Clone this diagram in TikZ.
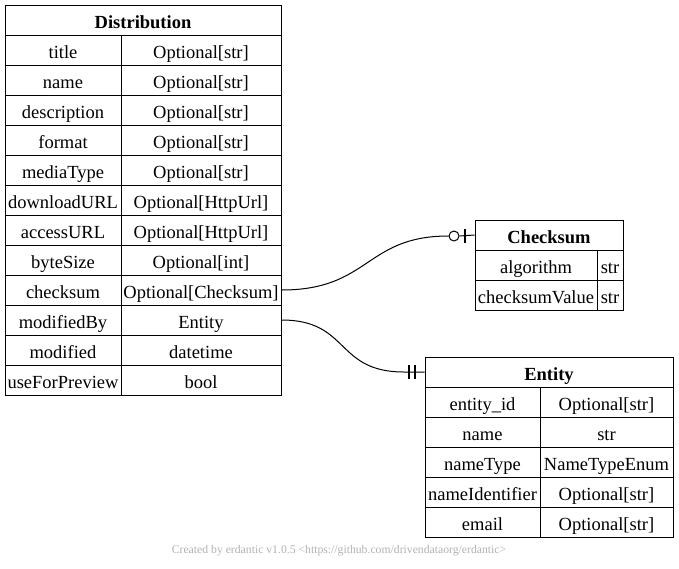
\documentclass[tikz,border=0pt]{standalone}
\usepackage{fontspec}
\setmainfont{Liberation Serif}
\begin{document}
\begin{tikzpicture}[x=1pt,y=-1pt,
  cell/.style={draw, line width=1pt, minimum height=30pt, inner sep=0pt, text height=17pt, text depth=1pt, font=\fontsize{18.5}{20}\selectfont},
  head/.style={cell, font=\fontsize{18.5}{20}\selectfont\bfseries},
  conn/.style={line width=1pt},
  barmark/.style={line width=2.6pt},
  ringmark/.style={draw, circle, line width=1pt, minimum size=10pt, inner sep=0pt}]
\useasboundingbox (0,0) rectangle (679,568);
% Distribution
\node[head, minimum width=276pt] (dist) at (143,20) {Distribution};
\foreach \i/\a/\b in {1/title/{Optional[str]},2/name/{Optional[str]},3/description/{Optional[str]},4/format/{Optional[str]},5/mediaType/{Optional[str]},6/downloadURL/{Optional[HttpUrl]},7/accessURL/{Optional[HttpUrl]},8/byteSize/{Optional[int]},9/checksum/{Optional[Checksum]},10/modifiedBy/{Entity},11/modified/{datetime},12/useForPreview/{bool}}{
  \node[cell, minimum width=116pt] (d\i a) at (63,20+30*\i) {\a};
  \node[cell, minimum width=160pt] (d\i b) at (201,20+30*\i) {\b};
}
% Checksum
\node[head, minimum width=148pt] (ch) at (549,235) {Checksum};
\foreach \i/\a/\b in {1/algorithm/str,2/checksumValue/str}{
  \node[cell, minimum width=122pt] (c\i a) at (536,235+30*\i) {\a};
  \node[cell, minimum width=26pt] (c\i b) at (610,235+30*\i) {\b};
}
% Entity
\node[head, minimum width=248pt] (en) at (549,372) {Entity};
\foreach \i/\a/\b in {1/entity\_id/{Optional[str]},2/name/str,3/nameType/NameTypeEnum,4/nameIdentifier/{Optional[str]},5/email/{Optional[str]}}{
  \node[cell, minimum width=115pt] (e\i a) at (482.5,372+30*\i) {\a};
  \node[cell, minimum width=133pt] (e\i b) at (606.5,372+30*\i) {\b};
}
% connector distribution.checksum -> Checksum
\node[ringmark] (ring) at (454,236) {};
\draw[conn] (d9b.east) .. controls (370,290) and (365,236) .. (ring.west);
\draw[conn] (ring.east) -- (ch.west);
\draw[barmark] (465,229) -- (465,243);
% connector distribution.modifiedBy -> Entity
\coordinate (ein) at (404,372);
\draw[conn] (d10b.east) .. controls (350,320) and (335,372) .. (ein) -- (en.west);
\draw[barmark] (409,365) -- (409,379);
\draw[barmark] (415,365) -- (415,379);
% footer
\node[text=black!30, font=\fontsize{11.7}{13}\selectfont] (footer) at (339,551) {Created by erdantic v1.0.5 <https://github.com/drivendataorg/erdantic>};
\end{tikzpicture}
\end{document}
